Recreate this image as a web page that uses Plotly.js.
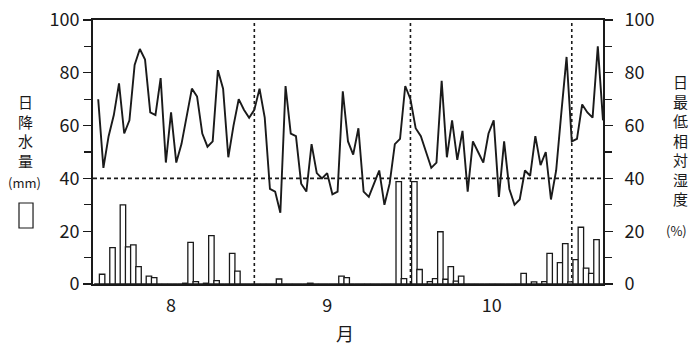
<!DOCTYPE html>
<html>
<head>
<meta charset="utf-8">
<script src="https://cdn.plot.ly/plotly-3.0.1.min.js"></script>
<style>html,body{margin:0;padding:0;background:#fff;}#chart{width:697px;height:347px;}</style>
</head>
<body>
<div id="chart"></div>
<script>
// Daily minimum relative humidity (%), Aug 1 .. Nov 6 (one value per day)
const humidity = [
  70,44,56,64,76,57,62,83,89,85,
  65,64,78,46,65,46,53,63,74,71,
  57,52,54,81,74,48,60,70,66,63,
  66,74,63,36,35,27,75,57,56,38,
  35,53,42,40,42,34,35,73,54,49,
  59,35,33,38,43,30,38,53,55,75,
  70,59,56,50,44,46,77,48,62,47,
  58,35,54,50,46,57,62,33,54,36,
  30,32,43,41,56,45,50,32,43,65,
  86,54,55,68,65,63,90,62
];
// Daily precipitation (mm), same days
const rainfall = [
  0,3.7,0,13.8,0,30.0,14.1,14.8,6.6,0,
  3.0,2.4,0,0,0,0,0,0.3,15.8,0.9,
  0,0.3,18.3,1.3,0,0,11.6,4.9,0,0,
  0,0,0,0,0,1.9,0,0,0,0,
  0,0.3,0,0,0,0,0,3.0,2.4,0,
  0,0,0,0,0,0,0,0,38.8,2.0,
  0,38.8,5.5,0,0.9,2.0,19.8,1.8,6.6,1.1,
  3.0,0,0,0,0,0,0,0,0,0,
  0,0,4.0,0,0.8,0,0.9,11.6,0,8.1,
  15.3,0.8,9.2,21.5,6.0,4.0,16.8,0
];
// Month labels and where they sit (day index), month-end boundaries (day index)
const monthLabels = ['8', '9', '10'];
const monthCenters = [15, 45, 76.6];
const monthEnds = [31, 61, 92];
const refHumidity = 40;
const yTicks = [0, 20, 40, 60, 80, 100];

const days = humidity.map((_, i) => i + 1);
const FONT = '"Noto Sans CJK JP", "Noto Sans", sans-serif';
const INK = '#1a1a1a';

const barTrace = {
  type: 'bar',
  x: days.map(d => d - 0.25),
  y: rainfall,
  width: 1.05,
  marker: {color: '#ffffff', line: {color: INK, width: 1.3}},
  yaxis: 'y',
  hoverinfo: 'skip'
};
const lineTrace = {
  type: 'scatter',
  mode: 'lines',
  x: days,
  y: humidity,
  line: {color: INK, width: 1.9},
  yaxis: 'y2',
  hoverinfo: 'skip'
};

const shapes = monthEnds.map(m => ({
  type: 'line', xref: 'x', yref: 'paper', x0: m, x1: m, y0: 0, y1: 1,
  line: {color: INK, width: 1.6, dash: '3px,3px'}, layer: 'below'
}));
shapes.push({
  type: 'line', xref: 'paper', yref: 'y2', x0: 0, x1: 1, y0: refHumidity, y1: refHumidity,
  line: {color: INK, width: 1.6, dash: '4px,3px'}, layer: 'below'
});
// legend symbol for precipitation bars
shapes.push({
  type: 'rect', xref: 'paper', yref: 'paper',
  x0: -0.1451, x1: -0.1176, y0: 0.2121, y1: 0.3068,
  line: {color: INK, width: 1.2}, fillcolor: '#ffffff'
});

const annotations = [
  {text: '日<br>降<br>水<br>量', x: -0.1314, y: 0.581, font: {size: 15}},
  {text: '(mm)', x: -0.135, y: 0.3826, font: {size: 13}},
  {text: '日<br>最<br>低<br>相<br>対<br>湿<br>度', x: 1.151, y: 0.547, font: {size: 15}},
  {text: '(%)', x: 1.145, y: 0.2045, font: {size: 13}},
  {text: '月', x: 0.494, y: -0.184, font: {size: 18}}
].map(a => Object.assign({xref: 'paper', yref: 'paper', showarrow: false,
  xanchor: 'center', yanchor: 'middle'}, a, {font: Object.assign({family: FONT, color: INK}, a.font)}));

const yAxisCommon = {
  range: [0, 100],
  tickvals: yTicks,
  ticktext: yTicks.map(String),
  ticks: 'outside', ticklen: 8, tickwidth: 1.3, tickcolor: INK,
  minor: {dtick: 10, ticks: 'outside', ticklen: 7, tickwidth: 1.3, tickcolor: INK},
  showline: true, linecolor: INK, linewidth: 2,
  showgrid: false, zeroline: false,
  tickfont: {family: FONT, size: 18, color: INK},
  fixedrange: true
};

const layout = {
  width: 697, height: 347,
  margin: {l: 93, r: 94, t: 20, b: 63},
  paper_bgcolor: '#ffffff', plot_bgcolor: '#ffffff',
  showlegend: false,
  bargap: 0,
  font: {family: FONT, color: INK},
  xaxis: {
    range: [0, 98],
    tickvals: monthCenters,
    ticktext: monthLabels,
    ticks: '',
    showline: true, mirror: true, linecolor: INK, linewidth: 2,
    showgrid: false, zeroline: false,
    tickfont: {family: FONT, size: 18, color: INK},
    ticklabelstandoff: 4,
    fixedrange: true
  },
  yaxis: Object.assign({}, yAxisCommon, {side: 'left'}),
  yaxis2: Object.assign({}, yAxisCommon, {side: 'right', overlaying: 'y', ticklabelstandoff: 8}),
  shapes: shapes,
  annotations: annotations
};

Plotly.newPlot('chart', [barTrace, lineTrace], layout, {staticPlot: true, displayModeBar: false});
</script>
</body>
</html>
